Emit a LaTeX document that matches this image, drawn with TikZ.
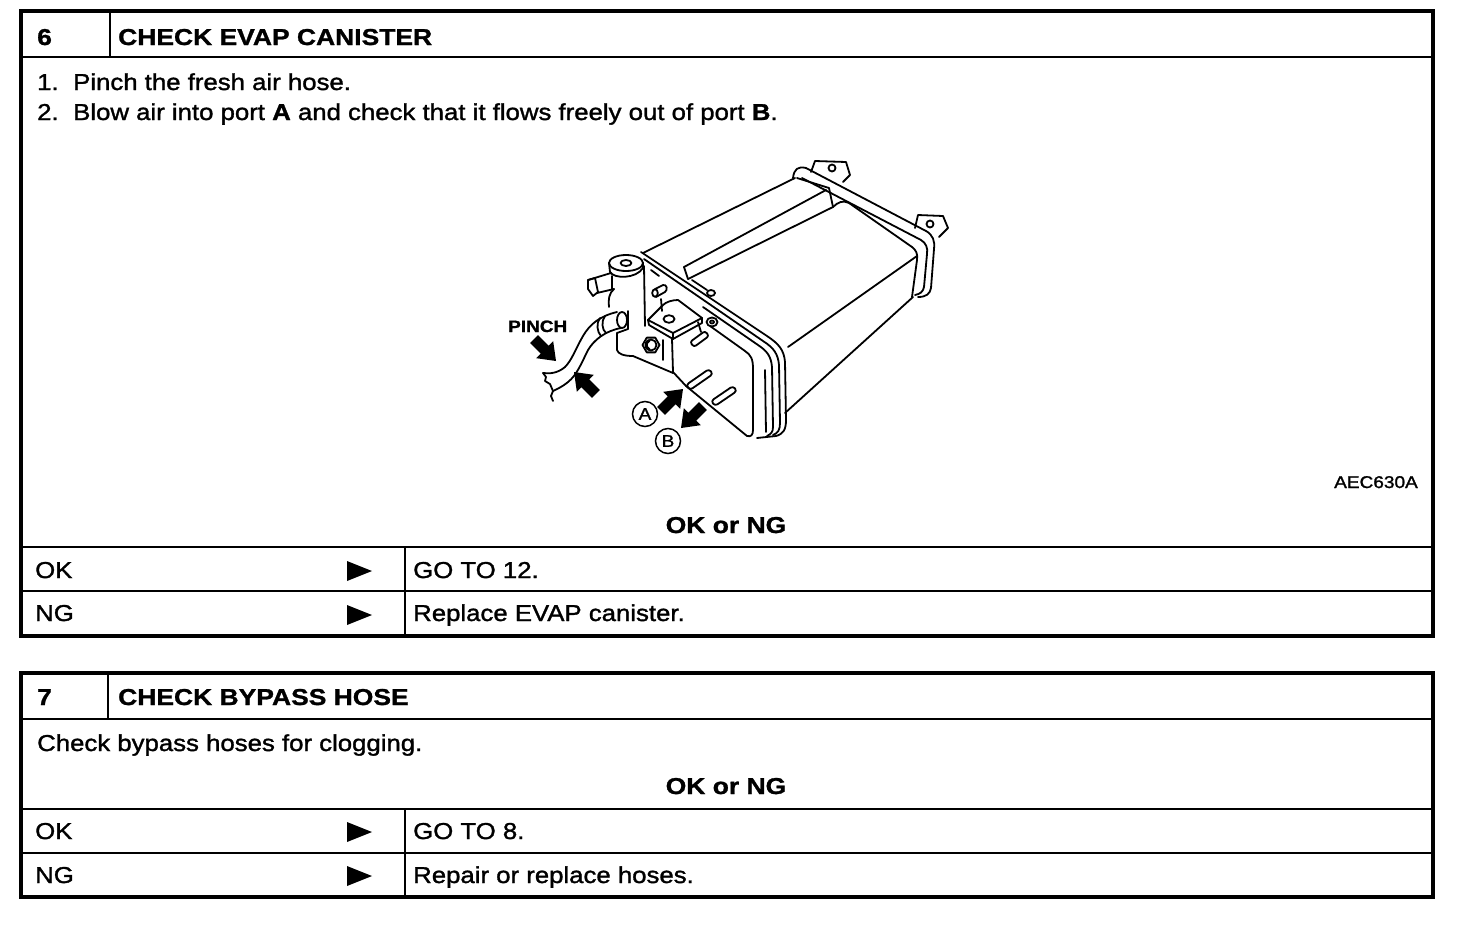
\documentclass[tikz,border=0pt]{standalone}
\usepackage{fontspec}
\setmainfont{Liberation Sans}[FakeStretch=1.12,FakeBold=1.4]
\newfontfamily\hfont{Liberation Sans}[FakeStretch=1.15,FakeBold=1.2]
\newcommand\blockarrow[3]{\fill[shift={(#1,#2)},rotate=#3] (0,0) -- (-16,-12) -- (-16,-5.5) -- (-31,-5.5) -- (-31,5.5) -- (-16,5.5) -- (-16,12) -- cycle;}
\begin{document}
\begin{tikzpicture}[x=1pt,y=-1pt,
  outer/.style={line width=3.4pt},
  inner/.style={line width=2.2pt},
  art/.style={line width=1.8pt,line join=round,line cap=round},
  txt/.style={inner sep=0pt,anchor=base west,font=\fontsize{23}{27}\selectfont},
  hdr/.style={inner sep=0pt,anchor=base west,font=\fontsize{23}{27}\selectfont\hfont\bfseries},
  okng/.style={inner sep=0pt,anchor=base,font=\fontsize{23}{27}\selectfont\hfont\bfseries},
  port/.style={draw,circle,line width=1.5pt,minimum size=25pt,inner sep=0pt,font=\fontsize{17}{17}\selectfont}]
\useasboundingbox (0,0) rectangle (1472,924);
\fill[white] (0,0) rectangle (1472,924);

% ---------- table 6 ----------
\draw[outer] (21,11) rectangle (1433,636);
\draw[inner] (21,57) -- (1433,57);
\draw[inner] (110,11) -- (110,57);
\draw[inner] (21,547) -- (1433,547);
\draw[inner] (21,591) -- (1433,591);
\draw[inner] (405,547) -- (405,636);

\node[hdr] (n6) at (37,45) {6};
\node[hdr] (t6) at (118,45) {CHECK EVAP CANISTER};
\node[txt] (s1n) at (37,90) {1.};
\node[txt] (s1) at (73,90) {Pinch the fresh air hose.};
\node[txt] (s2n) at (37,120) {2.};
\node[txt] (s2) at (73,120) {Blow air into port \textbf{A} and check that it flows freely out of port \textbf{B}.};
\node[inner sep=0pt,anchor=base east,font=\fontsize{17}{17}\selectfont] (code) at (1418,488) {AEC630A};
\node[okng] (q6) at (726,533) {OK or NG};
\node[txt] (ok6) at (35,578) {OK};
\node[txt] (ng6) at (35,621) {NG};
\node[txt] (go6) at (413,578) {GO TO 12.};
\node[txt] (rep6) at (413,621) {Replace EVAP canister.};
\fill (347,561) -- (372,571) -- (347,581) -- cycle;
\fill (347,605) -- (372,615) -- (347,625) -- cycle;

% ---------- table 7 ----------
\draw[outer] (21,673) rectangle (1433,897);
\draw[inner] (21,719) -- (1433,719);
\draw[inner] (108,673) -- (108,719);
\draw[inner] (21,809) -- (1433,809);
\draw[inner] (21,853) -- (1433,853);
\draw[inner] (405,809) -- (405,897);

\node[hdr] (n7) at (37,705) {7};
\node[hdr] (t7) at (118,705) {CHECK BYPASS HOSE};
\node[txt] (s7) at (37,751) {Check bypass hoses for clogging.};
\node[okng] (q7) at (726,794) {OK or NG};
\node[txt] (ok7) at (35,839) {OK};
\node[txt] (ng7) at (35,883) {NG};
\node[txt] (go7) at (413,839) {GO TO 8.};
\node[txt] (rep7) at (413,883) {Repair or replace hoses.};
\fill (347,822) -- (372,832) -- (347,842) -- cycle;
\fill (347,866) -- (372,876) -- (347,886) -- cycle;

% ---------- canister drawing ----------
% front band
\draw[art] (641,252) -- (767,336) .. controls (779,344) and (784,350) .. (785,362) -- (786,420) .. controls (786,430) and (783,434) .. (776,436) -- (757,438);
\draw[art] (644,259) -- (763,341) .. controls (774,348) and (778,354) .. (779,365) -- (780,423) .. controls (780,430) and (778,433) .. (773,435);
\draw[art] (651,270) -- (659,276);
\draw[art] (703,307) -- (758,345) .. controls (767,351) and (771,356) .. (772,367) -- (773,427) .. controls (773,432) and (771,434) .. (767,436);
\draw[art] (765,370) -- (766,432);
% front face
\draw[art] (710,326) -- (745,351) .. controls (751,355) and (753,359) .. (753,369) -- (753,430) .. controls (753,435) and (751,437) .. (747,436) -- (686,386) -- (673,372) -- (672,339);
\draw[art] (663,340) -- (663,360);
\draw[art] (698,322) -- (701,332);
% back band
\draw[art] (793,178) .. controls (794,169) and (798,166) .. (806,168) -- (926,231) .. controls (933,235) and (935,241) .. (934,249) -- (931,288) .. controls (930,294) and (926,297) .. (918,297);
\draw[art] (802,178) -- (921,240) .. controls (926,243) and (928,248) .. (927,254) -- (924,287) .. controls (923,292) and (920,294) .. (915,295);
\draw[art] (833,207) .. controls (838,202) and (843,200) .. (849,203) -- (912,247) .. controls (916,250) and (918,254) .. (917,260) -- (912,297);
% tabs
\draw[art] (811,172) -- (815,161) -- (846,162) -- (850,175) -- (843,182);
\draw[art] (832,168) circle (3.5pt);
\draw[art] (915,228) -- (918,215) -- (943,216) -- (948,228) -- (939,237);
\draw[art] (930,224) circle (3.5pt);
% top face and body edges
\draw[art] (643,253) -- (795,178);
\draw[art] (797,178) -- (829,188) -- (833,207);
\draw[art] (684,267) -- (826,190);
\draw[art] (688,279) -- (833,207);
\draw[art] (684,267) -- (688,279);
\draw[art] (692,280) -- (707,290);
\draw[art] (788,347) -- (917,256);
\draw[art] (785,413) -- (913,297);
% holes and stubs on top
\draw[art] (711,293) ellipse [x radius=4pt, y radius=3pt];
\draw[art] (712,322) ellipse [x radius=5.5pt, y radius=4.5pt];
\draw[art] (712,322) ellipse [x radius=2pt, y radius=1.5pt];
\draw[art] (655,293) ellipse [x radius=2.8pt, y radius=3.8pt];
\draw[art] (655,289) -- (663,285) .. controls (667,284) and (668,290) .. (665,292) -- (656,297);
\draw[art] (661,299) -- (662,311);
% valve cap
\draw[art] (626,263) ellipse [x radius=17pt, y radius=8pt];
\draw[art] (626,263) ellipse [x radius=5.5pt, y radius=3pt];
\draw[art] (609,263) -- (610,272) .. controls (614,279) and (636,279) .. (643,268) -- (643,263);
\draw[art] (644,266) -- (645,326);
% nipple
\draw[art] (588,280) -- (611,273);
\draw[art] (588,280) -- (595,278) -- (598,292) -- (593,296) -- (588,289) -- cycle;
\draw[art] (597,293) -- (614,289);
\draw[art] (612,276) -- (612,289);
\draw[art] (614,289) .. controls (609,293) and (608,300) .. (609,307);
% hose collar and lower body
\draw[art] (622,320) ellipse [x radius=5pt, y radius=8pt];
\draw[art] (628,311) -- (628,329);
\draw[art] (617,333) -- (628,329);
\draw[art] (617,333) -- (617,350) .. controls (618,354) and (624,356) .. (633,356) -- (673,373);
% hose
\draw[art] (617,312) .. controls (600,316) and (590,324) .. (583,336) .. controls (576,348) and (572,360) .. (565,367) .. controls (558,373) and (550,374) .. (543,373);
\draw[art] (621,328) .. controls (605,331) and (594,340) .. (588,350) .. controls (582,362) and (577,375) .. (568,382) .. controls (562,387) and (557,389) .. (553,391);
\draw[art] (543,373) -- (546,377) -- (545,381) -- (550,384) -- (553,391) -- (551,396) -- (553,401);
\draw[art] (600,318) .. controls (596,323) and (597,332) .. (601,336);
\draw[art] (605,316) .. controls (601,321) and (602,330) .. (606,333);
% bracket
\draw[art] (648,320) -- (663,305) .. controls (666,302) and (672,300) .. (678,300) -- (702,318) -- (673,333) -- cycle;
\draw[art] (648,320) -- (649,325) -- (673,339) -- (702,323) -- (702,318);
\draw[art] (673,333) -- (673,339);
\draw[art] (669,319) ellipse [x radius=5.5pt, y radius=3.8pt];
% nut
\draw[art] (651,345) +(0:8.5) -- +(60:8.5) -- +(120:8.5) -- +(180:8.5) -- +(240:8.5) -- +(300:8.5) -- cycle;
\draw[art] (651,345) circle (5.5pt);
\draw[line width=3pt] (651,345) ++(110:5) arc (110:250:5);
% ports
\draw[art,rounded corners=2.5pt] (690,342) -- (705,331) -- (709,336) -- (694,347) -- cycle;
\draw[art,rounded corners=3pt] (686,385) -- (709,369) -- (713,374) -- (690,390) -- cycle;
\draw[art,rounded corners=3pt] (711,401) -- (733,386) -- (737,391) -- (715,406) -- cycle;
% arrows
\blockarrow{556}{361}{-45}
\blockarrow{574}{372}{135}
\blockarrow{683}{389}{45}
\blockarrow{681}{428}{-135}
% labels
\node[inner sep=0pt,anchor=base west,font=\fontsize{16.5}{17}\selectfont\hfont\bfseries] (pinch) at (508,332) {PINCH};
\node[port] (pa) at (645,414) {A};
\node[port] (pb) at (668,441) {B};
\end{tikzpicture}
\end{document}
